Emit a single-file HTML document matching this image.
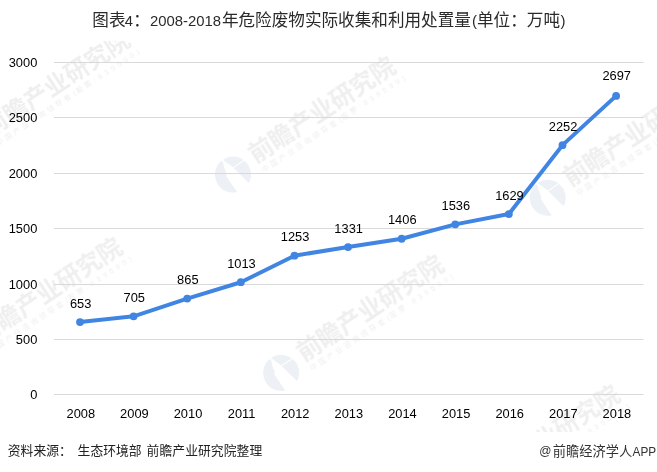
<!DOCTYPE html>
<html lang="zh-CN"><head><meta charset="utf-8"><title>图表4：2008-2018年危险废物实际收集和利用处置量</title>
<style>html,body{margin:0;padding:0;background:#fff}body{width:657px;height:472px;overflow:hidden;font-family:"Liberation Sans","Noto Sans CJK SC",sans-serif}svg{display:block}text{font-family:"Liberation Sans","Noto Sans CJK SC",sans-serif}</style>
</head><body>
<svg width="657" height="472" viewBox="0 0 657 472">
<rect width="657" height="472" fill="#fff"/>
<defs><filter id="gs" x="0" y="0" width="100%" height="100%" filterUnits="userSpaceOnUse" color-interpolation-filters="sRGB"><feColorMatrix type="saturate" values="0"/></filter></defs>
<defs>
<clipPath id="wc"><rect x="0" y="41.5" width="657" height="390.5"/></clipPath>
<g id="wm" fill="#efefef"><text x="2.5" y="1.3" font-size="24.4" font-weight="700" textLength="170" lengthAdjust="spacing">前瞻产业研究院</text><text x="4.5" y="13.1" font-size="7.3" letter-spacing="2.8">中国产业咨询领导者</text><text x="96.15" y="13.1" font-size="7.3">(</text><text x="99.8" y="13.1" font-size="7.3" letter-spacing="2.8">股票</text><text x="120.45" y="13.1" font-size="7.3" letter-spacing="3.55">:839599)</text></g>
<g id="ic" fill="#edf0f5"><path d="M-10.1-14.9A18 18 0 0 1 10.6-14.6L0-7.4Z"/><path d="M11.4-13.9A18 18 0 0 1 15.9 8.4L0.6-6.6Z"/><path d="M-11.6-13.8L-9.9-12.2L-9-7.4L-6.4-1.1L-6.9 1.3L4.1 17.5A18 18 0 0 1-11.6-13.8Z"/></g>
</defs>
<g clip-path="url(#wc)"><g filter="url(#gs)">
<use href="#wm" transform="translate(-12.7 137.9) rotate(-33.3)"/>
<use href="#wm" transform="translate(252.8 164.1) rotate(-33.3)"/>
<use href="#wm" transform="translate(567.5 187.3) rotate(-33.3)"/>
<use href="#wm" transform="translate(-20.5 344.9) rotate(-33.3)"/>
<use href="#wm" transform="translate(301 362.4) rotate(-33.3)"/>
<use href="#wm" transform="translate(477.2 492.5) rotate(-33.3)"/>
</g>
<use href="#ic" transform="translate(233 174.6)"/>
<use href="#ic" transform="translate(547.7 197.8)"/>
<use href="#ic" transform="translate(281.2 372.9)"/>
</g>
<g stroke="#d9d9d9" stroke-width="1" fill="none">
<path d="M54 394.5H643.5"/>
<path d="M54 339.5H643.5"/>
<path d="M54 284.5H643.5"/>
<path d="M54 228.5H643.5"/>
<path d="M54 173.5H643.5"/>
<path d="M54 117.5H643.5"/>
<path d="M54 62.5H643.5"/>
</g>
<g font-size="12.85" fill="#000" text-anchor="end" filter="url(#gs)">
<text x="37.3" y="399">0</text>
<text x="37.3" y="344">500</text>
<text x="37.3" y="289">1000</text>
<text x="37.3" y="233">1500</text>
<text x="37.3" y="178">2000</text>
<text x="37.3" y="122">2500</text>
<text x="37.3" y="67">3000</text>
</g>
<polyline points="80,322.05 133.61,316.3 187.22,298.6 240.83,282.22 294.44,255.67 348.05,247.04 401.66,238.74 455.27,224.36 508.88,214.07 562.49,145.14 616.1,95.9" fill="none" stroke="#4185e3" stroke-width="4" stroke-linejoin="round" stroke-linecap="round"/>
<g fill="#4185e3">
<circle cx="80" cy="322.05" r="3.9"/>
<circle cx="133.61" cy="316.3" r="3.9"/>
<circle cx="187.22" cy="298.6" r="3.9"/>
<circle cx="240.83" cy="282.22" r="3.9"/>
<circle cx="294.44" cy="255.67" r="3.9"/>
<circle cx="348.05" cy="247.04" r="3.9"/>
<circle cx="401.66" cy="238.74" r="3.9"/>
<circle cx="455.27" cy="224.36" r="3.9"/>
<circle cx="508.88" cy="214.07" r="3.9"/>
<circle cx="562.49" cy="145.14" r="3.9"/>
<circle cx="616.1" cy="95.9" r="3.9"/>
</g>
<g font-size="12.85" fill="#000" text-anchor="middle" filter="url(#gs)">
<text x="80.6" y="307.75">653</text>
<text x="134.21" y="302">705</text>
<text x="187.82" y="284.3">865</text>
<text x="241.43" y="267.92">1013</text>
<text x="295.04" y="241.37">1253</text>
<text x="348.65" y="232.74">1331</text>
<text x="402.26" y="224.44">1406</text>
<text x="455.87" y="210.06">1536</text>
<text x="509.48" y="199.77">1629</text>
<text x="563.09" y="130.84">2252</text>
<text x="616.7" y="80.4">2697</text>
</g>
<g font-size="12.85" fill="#000" text-anchor="middle" filter="url(#gs)">
<text x="80.8" y="418.2">2008</text>
<text x="134.41" y="418.2">2009</text>
<text x="188.02" y="418.2">2010</text>
<text x="241.63" y="418.2">2011</text>
<text x="295.24" y="418.2">2012</text>
<text x="348.85" y="418.2">2013</text>
<text x="402.46" y="418.2">2014</text>
<text x="456.07" y="418.2">2015</text>
<text x="509.68" y="418.2">2016</text>
<text x="563.29" y="418.2">2017</text>
<text x="616.9" y="418.2">2018</text>
</g>
<g role="img" aria-label="图表4：2008-2018年危险废物实际收集和利用处置量(单位：万吨)">
<g font-size="16.6" fill="#2a2a2a">
<text x="92.3" y="25.9" textLength="33.2" lengthAdjust="spacing">图表</text>
<text x="133.3" y="25.9">：</text>
<text x="221.9" y="25.9" textLength="249" lengthAdjust="spacing">年危险废物实际收集和利用处置量</text>
<text x="477" y="25.9" textLength="83" lengthAdjust="spacing">单位：万吨</text>
</g>
<g font-size="15" fill="#2a2a2a">
<text x="124.8" y="25.9" textLength="8.2" lengthAdjust="spacingAndGlyphs">4</text>
<text x="150" y="25.9" textLength="71" lengthAdjust="spacingAndGlyphs">2008-2018</text>
<text x="471.9" y="25.9">(</text>
<text x="560.6" y="25.9">)</text>
</g></g>
<g role="img" aria-label="资料来源： 生态环境部 前瞻产业研究院整理" font-size="12.8" fill="#222">
<text x="7.8" y="455.3">资料来源：</text>
<text x="77.6" y="455.3">生态环境部</text>
<text x="146.6" y="455.3" textLength="115.6" lengthAdjust="spacing">前瞻产业研究院整理</text>
</g>
<g role="img" aria-label="@前瞻经济学人APP">
<text x="552.7" y="455.8" font-size="13.2" fill="#333" textLength="79.4" lengthAdjust="spacing">前瞻经济学人</text>
<text x="539.2" y="455.4" font-size="12" fill="#333">@</text>
<text x="632.6" y="455.59999999999997" font-size="12" fill="#333" textLength="23.6" lengthAdjust="spacingAndGlyphs">APP</text>
</g>
</svg>
</body></html>
